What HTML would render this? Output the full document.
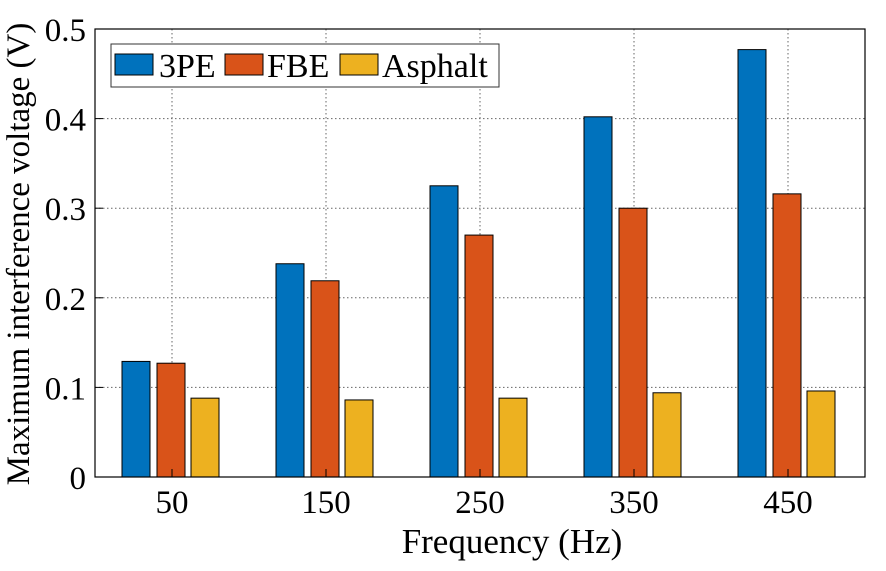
<!DOCTYPE html>
<html><head><meta charset="utf-8"><style>
body{margin:0;background:#fff;}
svg text{font-family:"Liberation Serif","Times New Roman",serif;fill:#000;}
</style></head><body>
<svg id="chart" width="886" height="566" viewBox="0 0 886 566">
<g id="grid"></g>
<g id="bars"></g>
<rect x="95" y="29" width="770" height="448" fill="none" stroke="#000" stroke-width="1.2"/>
<g id="ticks"></g>
<text x="512" y="553" font-size="35" text-anchor="middle">Frequency (Hz)</text>
<text transform="translate(29,254) rotate(-90)" font-size="33" text-anchor="middle">Maximum interference voltage (V)</text>
<g>
<rect x="111" y="44" width="388" height="43" fill="#fff" stroke="#333" stroke-width="1"/>
<rect x="115" y="54" width="38" height="21" fill="#0072BD" stroke="#000"/>
<text x="159" y="77" font-size="34">3PE</text>
<rect x="225" y="54" width="38" height="21" fill="#D95319" stroke="#000"/>
<text x="267" y="77" font-size="34">FBE</text>
<rect x="340" y="54" width="38" height="21" fill="#EDB120" stroke="#000"/>
<text x="382" y="77" font-size="34">Asphalt</text>
</g>
</svg>
<script>
const categories=[50,150,250,350,450];
const s3PE=[0.129,0.238,0.325,0.402,0.477];
const sFBE=[0.127,0.219,0.270,0.300,0.316];
const sAsphalt=[0.088,0.086,0.088,0.094,0.096];
const yTicks=[0,0.1,0.2,0.3,0.4,0.5];
const NS="http://www.w3.org/2000/svg";
const xs=v=>95+v*770/500;
const ys=v=>477-v*896;
const grid=document.getElementById('grid'),bars=document.getElementById('bars'),ticks=document.getElementById('ticks');
function mk(tag,attrs,parent){const e=document.createElementNS(NS,tag);for(const k in attrs)e.setAttribute(k,attrs[k]);parent.appendChild(e);return e;}
yTicks.forEach(t=>{
 const y=ys(t);
 if(t>0&&t<0.5){const l=mk('line',{x1:95,x2:865,y1:y,y2:y,stroke:'#666','stroke-width':1,'stroke-dasharray':'1.5,2.5'},grid);
 
 }
 const tl=mk('line',{x1:95,x2:103,y1:y,y2:y,stroke:'#000'},ticks);
 
 
 const tx=mk('text',{x:86,y:y+12,'font-size':33,'text-anchor':'end'},ticks);
 tx.textContent=t===0?'0':t.toFixed(1);
 
 
});
categories.forEach((c,i)=>{
 const x=xs(c);
 const l=mk('line',{x1:x,x2:x,y1:29,y2:477,stroke:'#666','stroke-width':1,'stroke-dasharray':'1.5,2.5'},grid);
 
 
 const tk=mk('line',{x1:x,x2:x,y1:477,y2:469,stroke:'#000'},ticks);
 
 
 const tx=mk('text',{x:x,y:513,'font-size':33,'text-anchor':'middle'},ticks);
 tx.textContent=c;
 
 
 [[s3PE,'#0072BD',-50,'3pe'],[sFBE,'#D95319',-15,'fbe'],[sAsphalt,'#EDB120',19,'asphalt']].forEach(([s,col,off,nm])=>{
  const y=ys(s[i]);
  const r=mk('rect',{x:x+off,y:y,width:28,height:477-y,fill:col,stroke:'#000','stroke-width':1},bars);
  
  
 });
});
</script>
</body></html>
